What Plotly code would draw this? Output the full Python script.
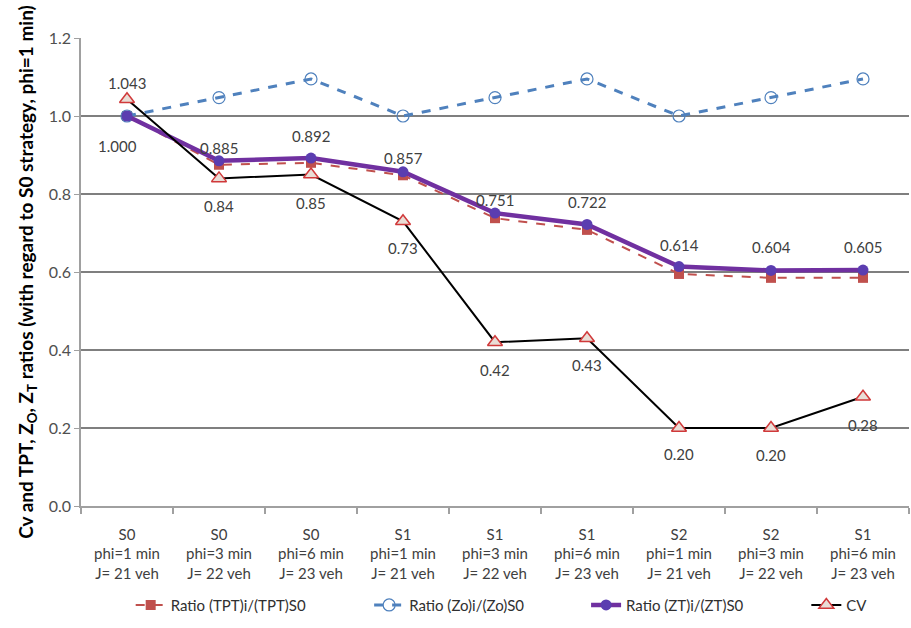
import plotly.graph_objects as go

# Scenario labels (strategy / phi / fleet size)
strategy = ["S0", "S0", "S0", "S1", "S1", "S1", "S2", "S2", "S1"]
phi = ["phi=1 min", "phi=3 min", "phi=6 min", "phi=1 min", "phi=3 min",
       "phi=6 min", "phi=1 min", "phi=3 min", "phi=6 min"]
fleet = ["J= 21 veh", "J= 22 veh", "J= 23 veh", "J= 21 veh", "J= 22 veh",
         "J= 23 veh", "J= 21 veh", "J= 22 veh", "J= 23 veh"]

# Series values
ratio_tpt = [1.000, 0.875, 0.880, 0.848, 0.738, 0.708, 0.595, 0.585, 0.585]
ratio_zo = [1.000, 1.047, 1.095, 1.000, 1.047, 1.095, 1.000, 1.047, 1.095]
ratio_zt = [1.000, 0.885, 0.892, 0.857, 0.751, 0.722, 0.614, 0.604, 0.605]
cv = [1.043, 0.84, 0.85, 0.73, 0.42, 0.43, 0.20, 0.20, 0.28]

y_ticks = [0.0, 0.2, 0.4, 0.6, 0.8, 1.0, 1.2]

x = list(range(len(strategy)))
tick_text = [f"{s}<br>{p}<br>{j}" for s, p, j in zip(strategy, phi, fleet)]

# Value-label placement (pixel offsets from each marker)
zt_dx = [-10, 0, 0, 0, 0, 0, 0, 0, 0]
zt_dy = [-30, 13, 22, 14, 13, 22, 22, 23, 23]
cv_dy = [16, -28, -28, -27, -28, -27, -26, -27, -28]

# Horizontal legend slots (paper fraction), one legend box per series
legend_x = [0.060, 0.348, 0.610, 0.876]

FONT = "Lato, 'Open Sans', sans-serif"
label_font = dict(family=FONT, size=15, color="#404040")

fig = go.Figure()

fig.add_trace(go.Scatter(
    x=x, y=ratio_tpt, name="Ratio (TPT)i/(TPT)S0", mode="lines+markers",
    line=dict(color="#C0504D", width=2, dash="dash"),
    marker=dict(symbol="square", size=10, color="#C0504D"),
    legend="legend",
))
fig.add_trace(go.Scatter(
    x=x, y=ratio_zo, name="Ratio (Zo)i/(Zo)S0", mode="lines+markers",
    line=dict(color="#4F81BD", width=3, dash="dash"),
    marker=dict(symbol="circle", size=12, color="rgba(255,255,255,0)",
                line=dict(color="#4F81BD", width=1.2)),
    legend="legend2",
))
fig.add_trace(go.Scatter(
    x=x, y=ratio_zt, name="Ratio (ZT)i/(ZT)S0", mode="lines+markers",
    line=dict(color="#7030A0", width=4.5),
    marker=dict(symbol="circle", size=11, color="#5B3DB0"),
    legend="legend3",
))
fig.add_trace(go.Scatter(
    x=x, y=cv, name="CV", mode="lines+markers",
    line=dict(color="#000000", width=2),
    marker=dict(symbol="triangle-up", size=13, color="#E9DDD6",
                line=dict(color="#D0393A", width=1.5)),
    legend="legend4",
))

annotations = []
for xi, v, dx, dy in zip(x, ratio_zt, zt_dx, zt_dy):
    annotations.append(dict(x=xi, y=v, text=f"{v:.3f}", showarrow=False,
                            xshift=dx, yshift=dy, font=label_font))
for xi, v, dy in zip(x, cv, cv_dy):
    txt = f"{v:.3f}" if round(v, 2) != v else f"{v:.2f}"
    annotations.append(dict(x=xi, y=v, text=txt, showarrow=False,
                            yshift=dy, font=label_font))

legend_style = dict(orientation="h", xanchor="left", y=-0.212, yanchor="middle",
                    font=dict(size=15, color="#303030"), bgcolor="rgba(0,0,0,0)")

fig.update_layout(
    width=911, height=628,
    margin=dict(l=81, r=2, t=38, b=122, autoexpand=False),
    paper_bgcolor="white", plot_bgcolor="white",
    font=dict(family=FONT, size=15, color="#404040"),
    showlegend=True,
    legend=dict(x=legend_x[0], **legend_style),
    legend2=dict(x=legend_x[1], **legend_style),
    legend3=dict(x=legend_x[2], **legend_style),
    legend4=dict(x=legend_x[3], **legend_style),
    annotations=annotations,
)

fig.update_xaxes(
    range=[-0.5, len(x) - 0.5], tickmode="array", tickvals=x, ticktext=tick_text,
    ticks="", showgrid=False, zeroline=False, ticklabelstandoff=14,
    showline=True, linecolor="#A0A0A0", linewidth=1.5,
    tickfont=dict(size=15, color="#404040"),
    minor=dict(tickmode="linear", tick0=-0.5, dtick=1, ticks="outside",
               ticklen=6, tickcolor="#A0A0A0", tickwidth=1.5, showgrid=False),
)
fig.update_yaxes(
    range=[0, 1.2], tickmode="array", tickvals=y_ticks,
    ticktext=[f"{v:.1f}" for v in y_ticks],
    showgrid=True, gridcolor="#7F7F7F", gridwidth=2, zeroline=False,
    showline=True, linecolor="#A0A0A0", linewidth=1.5,
    ticks="outside", ticklen=5, tickcolor="#A0A0A0",
    tickfont=dict(size=16, color="#505050"),
    title=dict(text="<b>Cv and TPT, Z<sub>O</sub>, Z<sub>T</sub> ratios (with regard to S0 strategy, phi=1 min)</b>",
               font=dict(size=19, color="#000000"), standoff=10),
)

fig.write_html("out.html")
